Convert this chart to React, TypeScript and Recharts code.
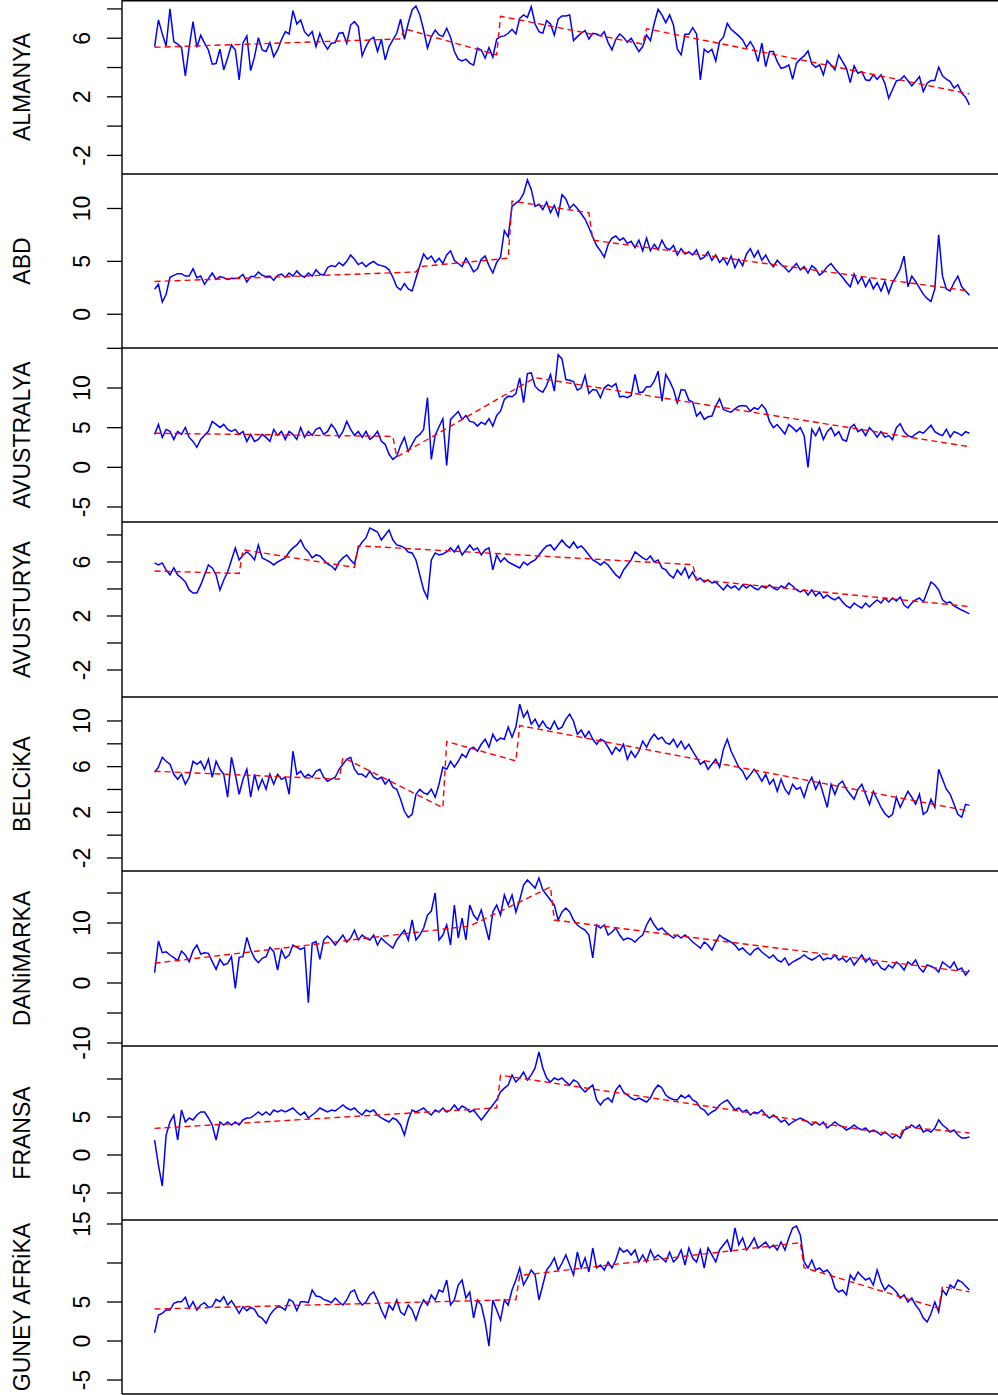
import React from 'react';
import { LineChart, Line, XAxis, YAxis } from 'recharts';

const almanya = [5.43,7.25,6.3,5.47,8.0,5.77,5.6,5.38,3.43,5.4,
7.13,5.38,6.2,5.67,5.2,4.23,4.27,5.25,3.84,4.65,
5.54,5.2,3.16,5.68,6.16,3.79,4.74,6.04,5.2,5.09,
5.7,4.74,5.2,5.9,6.45,6.29,7.88,6.97,7.25,6.45,
6.16,6.45,5.43,6.34,5.66,5.25,5.66,5.7,6.34,6.38,
5.66,6.9,7.13,6.79,4.79,5.43,5.9,6.07,5.09,5.93,
4.52,5.43,5.88,6.34,7.3,5.93,7.02,7.93,8.2,7.59,
6.56,5.32,6.11,6.56,6.22,6.11,6.68,6.07,5.09,4.57,
4.45,4.57,4.3,4.16,5.32,5.2,4.64,5.36,4.7,5.93,
6.11,6.16,6.34,6.61,6.29,7.36,7.59,7.43,8.15,6.97,
6.45,6.34,7.2,6.97,6.22,7.3,7.52,7.52,7.59,5.84,
6.11,6.34,6.52,5.95,6.34,6.29,6.16,6.45,5.7,5.2,
5.93,6.29,6.07,5.72,6.0,5.54,5.09,5.43,6.22,5.84,
7.02,7.98,7.59,7.06,7.59,6.9,5.25,4.86,6.27,6.27,
6.72,6.29,3.16,5.25,5.02,5.25,4.45,5.77,6.07,7.02,
6.61,6.38,6.16,5.88,5.38,5.77,5.32,4.4,5.66,4.06,
5.09,5.09,4.4,3.95,4.02,4.18,3.2,4.3,4.57,4.79,
5.13,4.25,4.02,4.18,3.5,4.47,4.18,3.84,4.86,4.4,
3.95,2.97,4.11,3.61,3.72,3.16,3.11,3.5,3.2,3.5,
2.93,1.91,2.5,3.09,3.16,3.43,3.1,2.75,3.05,3.38,
2.36,2.93,3.11,3.11,4.02,3.43,3.2,3.04,2.59,2.82,
2.25,1.98,1.45];
const almanyaTrend = [[0,5.38],[64,5.95],[65,6.65],[89,4.86],[90,7.5],[127,5.6],[128,6.65],[212,2.2]];

const abd = [2.36,2.83,1.16,1.89,3.49,3.68,3.84,3.84,3.61,3.61,
4.31,3.46,3.61,2.83,3.37,3.9,3.3,3.56,3.46,3.3,
3.4,3.37,3.46,3.77,3.05,3.56,3.56,3.99,3.68,3.56,
3.61,3.2,3.68,3.8,3.5,3.9,3.6,4.1,3.7,3.5,
3.9,3.6,4.2,3.8,3.7,4.4,4.6,4.5,4.9,4.6,
5.0,5.6,5.2,4.7,4.9,4.5,4.8,5.0,4.7,4.6,
4.5,4.2,3.5,2.6,2.3,2.9,2.4,2.2,3.4,4.6,
5.7,5.2,5.5,4.9,5.3,4.8,5.6,6.0,5.1,4.8,
4.5,5.3,4.7,4.0,4.3,5.2,5.5,4.6,3.9,4.9,
5.4,7.9,7.3,10.2,10.5,10.8,11.4,12.7,11.8,10.2,
10.4,9.9,10.6,9.6,10.3,9.3,11.3,10.9,10.0,10.4,
10.0,9.5,9.0,8.2,7.3,6.5,6.0,5.4,6.6,7.2,
7.4,7.0,7.2,6.7,6.9,6.3,7.0,6.0,7.2,6.0,
6.6,6.1,7.0,6.3,6.1,6.5,5.6,6.2,5.7,5.9,
5.6,6.1,5.2,5.4,5.9,5.1,5.6,4.9,5.3,4.7,
5.5,4.4,5.2,4.6,5.7,6.2,5.4,6.0,5.1,5.6,
4.9,4.5,5.1,4.7,4.4,4.0,4.4,4.8,4.2,4.5,
3.9,4.6,4.3,3.7,4.0,4.5,4.8,4.3,3.9,3.5,
3.0,2.6,3.8,2.9,3.5,2.6,3.3,2.4,3.0,2.2,
3.1,2.0,3.0,3.6,4.3,5.5,2.6,3.6,3.1,2.5,
1.9,1.5,1.2,2.4,7.5,3.6,2.4,2.2,3.0,3.6,
2.6,2.2,1.8];
const abdTrend = [[0,3.1],[68,4.0],[69,4.5],[92,5.3],[93,10.7],[113,9.6],[114,7.0],[212,2.2]];

const avustralya = [4.15,5.41,3.77,4.78,4.53,3.52,4.53,4.15,5.03,3.77,
3.27,2.52,3.52,4.03,4.53,5.79,5.41,5.03,5.41,4.78,
4.53,4.78,4.15,4.53,3.27,4.15,3.27,3.52,4.15,3.77,
3.27,4.78,4.03,4.53,3.52,4.53,4.15,3.52,5.03,3.77,
4.53,4.03,4.78,5.03,4.15,4.53,5.41,4.78,3.77,4.53,
5.79,4.78,4.03,4.53,3.77,4.53,3.52,3.9,4.53,3.27,
2.9,1.64,1.0,1.38,2.77,3.77,2.01,2.89,3.77,4.15,
4.78,8.8,1.0,4.03,
5.12,6.12,0.25,6.04,6.54,7.04,6.04,6.54,5.79,5.7,
5.2,5.7,5.41,6.12,5.2,6.54,7.08,8.55,8.97,8.89,
9.3,11.28,8.14,11.82,11.9,10.23,9.72,9.47,10.31,11.7,
9.6,14.2,13.67,11.07,10.98,10.82,9.72,10.02,11.57,9.31,
9.81,9.72,8.77,10.02,10.4,10.15,10.57,8.89,8.97,8.77,
9.06,11.7,9.47,9.47,10.15,10.15,10.86,12.12,8.34,11.7,
10.86,9.81,8.14,9.81,9.72,8.47,8.22,6.46,6.96,6.04,
6.37,6.46,7.71,8.64,7.3,7.08,6.96,7.38,7.71,7.8,
7.71,7.08,7.51,
7.3,7.9,7.3,5.8,5.0,5.4,4.8,4.2,5.4,5.0,
4.5,5.0,4.0,0.0,4.8,4.0,5.0,3.5,4.5,5.0,
4.0,4.5,3.5,3.3,5.0,5.4,4.5,4.8,4.0,5.0,
4.5,3.8,4.5,3.8,4.0,3.5,5.0,5.5,4.5,4.0,
3.8,4.2,4.5,4.3,4.8,5.3,4.5,4.2,4.0,4.8,
3.8,4.5,4.3,4.0,4.5,4.3];
const avustralyaTrend = [[0,4.3],[62,3.9],[63,1.3],[99,11.3],[212,2.6]];

const avusturya = [5.93,5.78,5.93,5.41,5.04,5.56,5.04,4.81,4.52,3.93,
3.7,3.7,4.3,5.04,5.78,5.56,5.04,3.93,4.67,5.26,
6.15,7.04,6.15,6.52,6.74,6.52,6.15,7.26,6.3,6.15,
6.0,5.78,6.0,6.15,6.3,6.74,7.04,7.26,7.63,7.04,
6.74,6.3,6.52,6.44,6.15,5.85,5.7,5.41,6.0,6.3,
6.52,6.15,5.85,7.04,7.48,7.78,8.52,8.37,8.22,7.63,
8.0,8.37,7.63,7.26,7.19,7.04,6.74,6.67,6.15,5.04,
3.93,3.33,6.15,6.67,6.52,6.59,6.74,7.04,6.74,7.19,
6.52,6.89,7.26,6.89,7.04,6.52,6.89,7.04,5.41,6.52,
6.0,6.3,6.0,5.85,5.7,5.56,6.0,5.78,6.0,6.15,
6.52,6.89,7.19,7.26,6.89,7.26,7.63,7.26,7.04,7.48,
7.04,7.19,6.89,6.52,6.15,6.0,5.78,6.0,5.78,5.41,
5.04,4.81,5.41,5.78,6.15,6.74,6.52,6.3,6.15,6.44,
6.0,6.15,5.56,5.41,5.04,4.81,5.41,5.04,5.56,4.81,
5.26,4.67,4.81,4.52,4.67,4.44,4.52,4.22,3.93,4.3,
4.07,4.22,3.93,4.3,4.07,4.3,4.07,3.93,4.22,4.07,
4.3,4.07,3.93,4.22,4.07,4.44,4.22,3.93,3.78,3.93,
3.56,3.93,3.48,3.78,3.33,3.56,3.33,3.19,3.41,3.04,
2.74,2.59,2.96,2.74,2.59,2.96,2.67,2.96,3.19,2.96,
3.33,3.04,3.33,3.11,3.41,2.81,2.59,2.96,3.19,3.33,
3.04,3.78,4.52,4.3,3.93,3.19,2.96,3.04,2.74,2.59,
2.44,2.3,2.15];
const avusturyaTrend = [[0,5.33],[22,5.15],[23,6.9],[52,5.6],[53,7.2],[140,5.8],[141,4.7],[212,2.7]];

const belcika = [5.51,5.95,6.82,6.47,6.21,5.33,4.89,5.33,4.46,5.07,
6.47,6.21,6.47,5.77,6.65,5.07,6.47,5.77,5.33,3.32,
6.82,5.33,3.58,4.9,5.77,3.32,5.33,4.02,4.89,4.02,
5.33,4.46,5.33,4.89,5.07,3.58,7.35,5.33,5.6,5.07,
5.33,5.07,5.6,5.77,5.07,4.72,4.9,5.07,5.77,6.21,
6.65,6.82,5.77,5.33,5.33,5.07,5.6,5.07,4.89,5.07,
4.46,4.89,4.19,4.02,3.14,2.09,1.56,1.82,3.58,4.02,
3.7,3.58,4.02,3.32,4.46,5.95,5.77,6.47,5.95,6.47,
7.09,6.82,7.53,7.7,7.35,7.96,8.4,7.7,8.84,8.23,
8.5,8.4,9.46,8.58,9.46,11.47,10.33,10.86,9.72,10.16,
9.46,9.98,9.46,9.28,9.98,9.28,9.46,10.16,10.6,9.98,
8.84,9.2,8.58,9.1,8.4,7.96,8.4,8.23,7.7,7.09,
7.7,7.35,7.96,6.65,7.35,6.82,7.35,8.23,7.7,8.4,
8.84,8.4,8.58,8.1,7.96,8.4,7.7,8.23,7.53,7.96,
7.35,6.82,6.21,6.47,5.77,6.21,6.65,5.95,7.53,8.4,
7.35,6.65,5.95,5.6,4.89,5.3,5.77,5.33,4.72,5.33,
4.46,4.89,3.84,4.89,4.02,3.58,4.46,4.02,4.19,3.32,
4.46,5.07,4.02,4.72,3.58,2.44,4.46,3.58,4.46,4.72,
4.02,3.58,3.14,4.02,4.46,3.58,2.7,3.84,3.14,2.44,1.9,
1.56,1.82,3.32,2.44,3.14,3.84,3.32,2.7,3.58,1.82,
2.09,3.14,2.44,5.77,4.89,4.02,3.58,2.7,1.82,1.56,
2.7,2.61];
const belcikaTrend = [[0,5.6],[48,4.9],[49,6.8],[75,2.4],[76,8.2],[94,6.5],[95,9.6],[212,2.1]];

const danimarka = [1.72,7.0,5.05,5.2,4.67,4.22,3.72,5.33,4.67,3.56,
5.39,6.33,4.83,5.05,4.94,3.56,2.28,3.94,3.0,3.28,
4.39,-0.89,4.28,4.39,7.61,5.5,4.11,3.39,4.11,4.39,
5.94,5.22,2.17,5.5,4.11,4.67,6.33,5.94,5.61,5.94,
-3.28,6.61,6.89,3.94,7.17,7.83,7.17,
6.33,7.17,8.0,6.83,7.5,8.83,7.17,8.0,7.5,7.17,
8.0,6.33,7.5,6.83,6.33,5.83,7.17,8.0,8.83,7.17,
10.5,7.17,8.0,9.17,11.33,12.0,15.0,7.17,8.0,9.67,6.33,
13.0,7.5,10.83,7.17,13.0,11.33,10.5,12.17,9.67,7.17,
11.83,13.0,11.33,14.67,13.0,14.67,11.83,13.83,16.33,17.17,16.5,
15.83,17.5,15.5,14.67,13.83,13.0,10.5,11.83,12.5,11.83,
10.5,9.67,9.17,8.83,8.0,4.17,9.67,9.17,9.67,8.0,
8.5,9.17,8.0,7.17,7.5,7.3,6.83,7.5,8.0,9.67,10.83,
9.67,8.83,9.17,8.5,8.0,7.5,8.0,7.5,8.0,7.5,
6.83,6.33,5.83,6.83,6.33,5.5,6.83,8.0,7.5,7.17,6.8,
6.33,5.5,5.83,5.17,4.67,5.5,5.83,5.17,4.67,4.17,
4.67,3.83,3.5,4.17,3.0,3.5,3.83,4.17,4.67,4.17,
3.83,4.17,4.67,3.83,4.17,4.0,4.67,3.83,4.17,3.5,4.17,
3.0,3.83,4.67,3.5,4.17,3.0,3.5,2.5,2.17,3.0,
2.5,3.5,3.0,2.17,3.5,3.0,3.83,2.5,1.83,3.0,2.8,
2.5,1.83,3.5,3.0,2.5,3.5,2.17,2.5,1.33,2.17];
const danimarkaTrend = [[0,3.3],[82,9.5],[103,16.0],[104,10.5],[212,1.8]];

const fransa = [1.97,-1.32,-4.08,2.63,4.34,5.26,1.97,5.92,4.34,4.87,
4.61,5.26,5.66,5.66,4.87,3.95,1.97,4.34,3.95,4.34,
3.95,4.34,3.95,4.61,4.87,4.9,5.26,5.66,5.26,5.66,
5.26,5.92,5.66,5.92,5.66,5.92,6.18,5.66,5.26,5.66,
4.87,5.26,5.66,6.18,5.92,5.66,5.92,5.8,6.18,6.58,
6.18,5.92,6.18,5.66,5.26,5.92,5.66,5.92,5.26,4.87,
4.61,4.34,4.87,4.61,3.95,2.63,4.61,5.92,5.66,5.9,
6.18,5.66,5.26,5.92,5.66,6.18,5.66,5.92,6.58,5.92,
6.45,6.18,5.66,5.92,5.26,4.61,5.26,5.92,6.58,7.24,
8.29,8.8,9.21,10.53,9.61,10.13,10.92,9.87,10.53,11.45,
13.55,11.45,10.13,9.61,10.13,9.87,10.13,9.61,9.21,9.87,
9.61,8.82,8.29,8.8,9.21,7.24,6.58,7.24,7.5,6.97,
8.55,9.21,8.29,7.89,7.5,7.24,7.5,7.24,6.97,7.5,
8.55,9.21,8.82,7.89,7.5,7.3,7.24,7.89,7.5,7.89,
7.24,6.97,6.18,5.92,5.26,5.66,5.92,6.58,6.97,7.24,
6.58,5.92,6.18,5.66,5.92,5.26,5.66,5.5,5.92,5.26,
4.87,5.26,4.87,4.34,4.61,3.95,4.34,4.61,4.87,4.61,
4.34,3.95,4.34,3.95,4.34,3.55,3.95,4.34,3.95,3.7,
3.29,3.55,3.95,3.55,3.29,3.55,3.03,3.29,3.03,2.63,
3.03,2.63,2.24,2.63,2.24,3.29,3.55,3.95,3.55,3.95,
3.03,3.29,3.03,3.55,4.61,3.95,3.55,3.03,3.29,2.63,
2.24,2.24,2.37];
const fransaTrend = [[0,3.5],[89,6.2],[90,10.5],[194,2.6],[195,3.7],[212,2.9]];

const guneyAfrika = [1.06,3.33,3.55,3.97,3.97,4.83,5.04,5.04,5.6,4.19,
5.04,3.97,4.62,4.91,4.32,4.4,5.34,5.04,5.68,4.62,
5.17,4.4,3.55,4.4,3.89,4.32,4.06,3.21,2.91,2.27,
3.33,3.97,4.4,4.32,3.97,5.34,5.04,3.89,5.04,5.04,
4.91,6.54,5.77,5.68,5.34,5.17,4.91,
5.51,5.0,4.62,5.26,6.28,6.54,5.26,4.62,5.0,5.9,
6.28,5.26,3.97,2.95,4.62,3.97,5.26,3.72,3.33,4.62,4.0,
2.69,4.23,5.26,4.62,5.9,5.26,6.54,6.28,7.82,4.62,
5.26,7.18,7.82,5.51,6.28,2.95,5.26,4.62,2.44,-0.64,
5.26,3.97,2.69,5.26,4.62,6.54,7.82,9.36,7.18,8.08,
9.1,8.46,5.26,7.18,9.1,9.74,10.64,9.1,10.0,11.03,9.74,
8.46,11.41,9.36,10.64,8.85,11.92,9.36,9.74,9.1,10.13,
9.36,10.38,11.92,11.41,11.67,11.03,11.67,10.13,11.03,10.13,
11.67,10.64,11.03,10.6,10.13,11.41,10.13,10.64,11.67,9.74,11.92,
10.64,10.13,11.67,9.36,11.92,11.03,10.13,11.67,12.31,12.95,
11.41,14.49,12.31,13.21,11.67,12.31,13.21,11.92,12.3,12.69,11.92,
12.31,11.67,12.69,11.67,13.21,14.49,14.74,13.59,10.13,9.36,
10.38,9.1,9.36,8.85,9.1,8.46,6.79,6.28,6.54,5.9,
8.46,7.82,8.85,8.3,7.82,8.08,7.18,9.1,7.56,6.54,7.18,
6.79,6.28,5.51,5.9,5.0,5.51,4.62,3.97,2.95,2.44,3.5,
5.0,3.72,6.54,5.9,7.18,6.79,7.82,7.56,7.05,6.54];
const guneyAfrikaTrend = [[0,4.1],[94,5.3],[95,8.4],[168,12.6],[169,9.4],[204,4.2],[205,7.0],[212,6.3]];

const names = ['ALMANYA', 'ABD', 'AVUSTRALYA', 'AVUSTURYA', 'BELCiKA', 'DANiMARKA', 'FRANSA', 'GUNEY AFRiKA'];
const seriesList = [almanya, abd, avustralya, avusturya, belcika, danimarka, fransa, guneyAfrika];
const trendList = [almanyaTrend, abdTrend, avustralyaTrend, avusturyaTrend, belcikaTrend, danimarkaTrend, fransaTrend, guneyAfrikaTrend];
const yDomains = [[-3.27, 8.61], [-3.19, 13.26], [-6.89, 15.04], [-4.0, 8.96], [-3.14, 12.1], [-10.5, 18.67], [-8.55, 14.34], [-6.79, 15.51]];
const yTicks = [[-2, 0, 2, 4, 6, 8], [0, 5, 10], [-5, 0, 5, 10, 15], [-2, 0, 2, 4, 6, 8], [-2, 0, 2, 4, 6, 8, 10], [-10, -5, 0, 5, 10, 15], [-5, 0, 5, 10], [-5, 0, 5, 10, 15]];
const yLabels = [[-2, 2, 6], [0, 5, 10], [-5, 0, 5, 10], [-2, 2, 6], [-2, 2, 6, 10], [-10, 0, 10], [-5, 0, 5], [-5, 0, 5, 15]];

const panelTops = [0, 174, 348, 522, 697, 871, 1046, 1220, 1394];
const FONT = '"Liberation Sans", Arial, Helvetica, sans-serif';
const N = 213;
const xPad = (N - 1) * 0.04;

const mk = (arr: number[]) => arr.map((v, i) => ({ i, v }));
const mkT = (pairs: number[][]) => pairs.map(([i, v]) => ({ i, v }));

const TickLabel = (props: any) => {
  const { y, payload, labels } = props;
  if (!labels.includes(payload.value)) return <g />;
  return (
    <text x={90} y={y} transform={`rotate(-90 90 ${y})`} textAnchor="middle" fontSize={23} fontFamily={FONT} fill="#000">
      {String(payload.value)}
    </text>
  );
};

export default function App() {
  return (
    <div style={{ position: 'absolute', left: 0, top: 0, width: 998, height: 1395, overflow: 'hidden', background: '#fff' }}>
      <style>{`.recharts-surface{overflow:visible !important}.recharts-wrapper{overflow:visible !important}`}</style>
      {names.map((name, k) => {
        const top = panelTops[k];
        const h = panelTops[k + 1] - top;
        return (
          <div key={name} style={{ position: 'absolute', left: 0, top, width: 1002, height: h, overflow: 'visible' }}>
            <LineChart width={1002} height={h} margin={{ top: 0, right: 0, bottom: 0, left: 0 }}>
              <XAxis type="number" dataKey="i" domain={[-xPad, N - 1 + xPad]} hide allowDataOverflow />
              <YAxis
                type="number"
                domain={yDomains[k]}
                ticks={yTicks[k]}
                interval={0}
                allowDataOverflow
                width={122}
                tickSize={15}
                axisLine={false}
                tickLine={{ stroke: '#000', strokeWidth: 1.3 }}
                tick={(p: any) => <TickLabel {...p} labels={yLabels[k]} />}
              />
              <Line data={mk(seriesList[k])} dataKey="v" type="linear" stroke="#0000FF" strokeWidth={1.5} dot={false} isAnimationActive={false} />
              <Line data={mkT(trendList[k])} dataKey="v" type="linear" stroke="#FF0000" strokeWidth={1.4} strokeDasharray="6 4" dot={false} isAnimationActive={false} />
            </LineChart>
          </div>
        );
      })}
      <svg width={998} height={1395} style={{ position: 'absolute', left: 0, top: 0, pointerEvents: 'none' }}>
        {panelTops.map((t, k) => (
          <line key={'h' + k} x1={122} x2={998} y1={Math.max(t, 0.7)} y2={Math.max(t, 0.7)} stroke="#000" strokeWidth={1.4} />
        ))}
        <line x1={122} x2={122} y1={0} y2={1394} stroke="#000" strokeWidth={1.4} />
        {names.map((name, k) => {
          const cy = (panelTops[k] + panelTops[k + 1]) / 2;
          return (
            <text key={'n' + k} x={30} y={cy} transform={`rotate(-90 30 ${cy})`} textAnchor="middle" fontSize={23} fontFamily={FONT} fill="#000">
              {name}
            </text>
          );
        })}
      </svg>
    </div>
  );
}
